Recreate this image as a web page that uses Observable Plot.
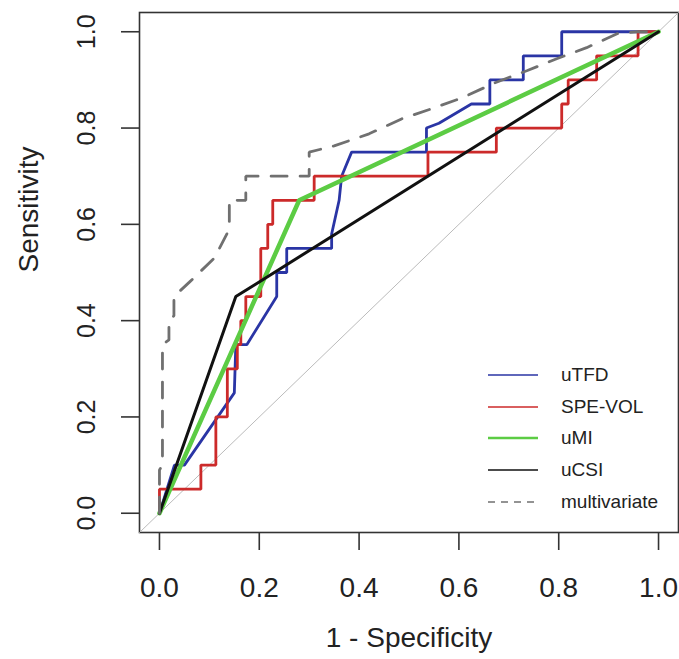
<!DOCTYPE html>
<html>
<head>
<meta charset="utf-8">
<script src="https://cdn.jsdelivr.net/npm/d3@7"></script>
<script src="https://cdn.jsdelivr.net/npm/@observablehq/plot@0.6"></script>
<style>
  html, body { margin: 0; padding: 0; background: #fff; }
  #wrap { position: relative; width: 679px; height: 659px; font-family: "Liberation Sans", Arial, sans-serif; }
  #legend { position: absolute; left: 488px; top: 359px; }
  .row { display: flex; align-items: center; height: 31.7px; }
  .row span { margin-left: 23px; font-size: 19px; color: #222; }
</style>
</head>
<body>
<div id="wrap"></div>
<script>
// ---- data ----
const axisDomain = [-0.04, 1.04];
const xTicks = [0, 0.2, 0.4, 0.6, 0.8, 1.0];
const yTicks = [0, 0.2, 0.4, 0.6, 0.8, 1.0];
const xTitle = "1 - Specificity";
const yTitle = "Sensitivity";

const seriesNames = ["uTFD", "SPE-VOL", "uMI", "uCSI", "multivariate"];
const seriesColors = ["#2a35a5", "#cc2a2a", "#5ccc44", "#111111", "#707070"];

const uTFD_x = [0, 0.03, 0.05, 0.15, 0.153, 0.175, 0.235, 0.235, 0.255, 0.255, 0.345, 0.345, 0.36, 0.365, 0.385, 0.535, 0.535, 0.56, 0.625, 0.662, 0.662, 0.729, 0.729, 0.806, 0.806, 1];
const uTFD_y = [0, 0.10, 0.10, 0.25, 0.35, 0.35, 0.45, 0.50, 0.50, 0.55, 0.55, 0.58, 0.65, 0.70, 0.75, 0.75, 0.80, 0.81, 0.85, 0.85, 0.90, 0.90, 0.95, 0.95, 1.0, 1.0];

const speVol_x = [0, 0, 0.083, 0.083, 0.113, 0.113, 0.136, 0.136, 0.156, 0.156, 0.163, 0.163, 0.173, 0.173, 0.203, 0.203, 0.217, 0.217, 0.227, 0.227, 0.31, 0.31, 0.538, 0.538, 0.675, 0.675, 0.806, 0.806, 0.819, 0.819, 0.876, 0.876, 0.959, 0.959, 1];
const speVol_y = [0, 0.05, 0.05, 0.10, 0.10, 0.20, 0.20, 0.30, 0.30, 0.35, 0.35, 0.40, 0.40, 0.45, 0.45, 0.55, 0.55, 0.60, 0.60, 0.65, 0.65, 0.70, 0.70, 0.75, 0.75, 0.80, 0.80, 0.85, 0.85, 0.90, 0.90, 0.95, 0.95, 1.0, 1.0];

const uMI_x = [0, 0.28, 1];
const uMI_y = [0, 0.65, 1];

const uCSI_x = [0, 0.153, 1];
const uCSI_y = [0, 0.45, 1];

const multi_x = [0, 0, 0.006, 0.006, 0.019, 0.019, 0.029, 0.029, 0.06, 0.11, 0.14, 0.14, 0.173, 0.173, 0.30, 0.30, 0.35, 0.42, 0.485, 0.545, 0.607, 0.672, 0.736, 0.796, 0.856, 0.917, 0.957, 1];
const multi_y = [0, 0.09, 0.10, 0.35, 0.36, 0.40, 0.41, 0.45, 0.48, 0.53, 0.59, 0.65, 0.65, 0.70, 0.70, 0.75, 0.763, 0.788, 0.819, 0.84, 0.863, 0.894, 0.919, 0.944, 0.967, 0.996, 1.0, 1.0];

// ---- build ----
const pts = (xs, ys) => xs.map((x, i) => [x, ys[i]]);
const series = [
  {pts: pts(uTFD_x, uTFD_y), w: 2.8, dash: null},
  {pts: pts(speVol_x, speVol_y), w: 2.8, dash: null},
  {pts: pts(uMI_x, uMI_y), w: 4.5, dash: null},
  {pts: pts(uCSI_x, uCSI_y), w: 3, dash: null},
  {pts: pts(multi_x, multi_y), w: 2.8, dash: "16,13"}
];

const marks = [
  Plot.frame({stroke: "#333", strokeWidth: 1.6}),
  Plot.line(axisDomain, {x: d => d, y: d => d, stroke: "#bbbbbb", strokeWidth: 1}),
];
series.forEach((s, i) => {
  marks.push(Plot.line(s.pts, {x: d => d[0], y: d => d[1], stroke: seriesColors[i], strokeWidth: s.w, strokeDasharray: s.dash, strokeLinejoin: "miter"}));
});
marks.push(
  Plot.axisX(xTicks, {tickSize: 18, tickPadding: 27, fontSize: 28, tickFormat: d3.format(".1f"), stroke: "#333", strokeWidth: 1.6, fill: "#222", label: null}),
  // y ticks (marks only)
  Plot.axisY(yTicks, {tickSize: 18, tickFormat: () => "", stroke: "#333", strokeWidth: 1.6, label: null}),
  // y tick labels (rotated, R style)
  Plot.axisY(yTicks, {tickSize: 0, tickPadding: 53, fontSize: 25, tickFormat: d3.format(".1f"), rotate: -90, textAnchor: "middle", lineAnchor: "middle", fill: "#222", label: null}),
  Plot.text([xTitle], {frameAnchor: "bottom", dy: 106, text: d => d, fontSize: 28, fill: "#222", lineAnchor: "middle"}),
  Plot.text([yTitle], {frameAnchor: "left", dx: -110, text: d => d, fontSize: 28, fill: "#222", rotate: -90, lineAnchor: "middle"})
);

const chart = Plot.plot({
  width: 679,
  height: 659,
  marginLeft: 139,
  marginRight: 1,
  marginTop: 12,
  marginBottom: 127,
  style: {fontFamily: "'Liberation Sans', Arial, sans-serif", background: "#fff"},
  x: {domain: axisDomain},
  y: {domain: axisDomain},
  marks
});
const wrap = document.getElementById("wrap");
wrap.appendChild(chart);

// legend (inside plot, bottom-right, no box)
const legend = document.createElement("div");
legend.id = "legend";
seriesNames.forEach((name, i) => {
  const row = document.createElement("div");
  row.className = "row";
  const dash = series[i].dash ? "7,6" : "none";
  const w = i === 2 ? 2.5 : 1.4;
  row.innerHTML = `<svg width="50" height="10"><line x1="0" x2="50" y1="5" y2="5" stroke="${seriesColors[i]}" stroke-width="${w}" stroke-dasharray="${dash}"/></svg><span>${name}</span>`;
  legend.appendChild(row);
});
wrap.appendChild(legend);
</script>
</body>
</html>
